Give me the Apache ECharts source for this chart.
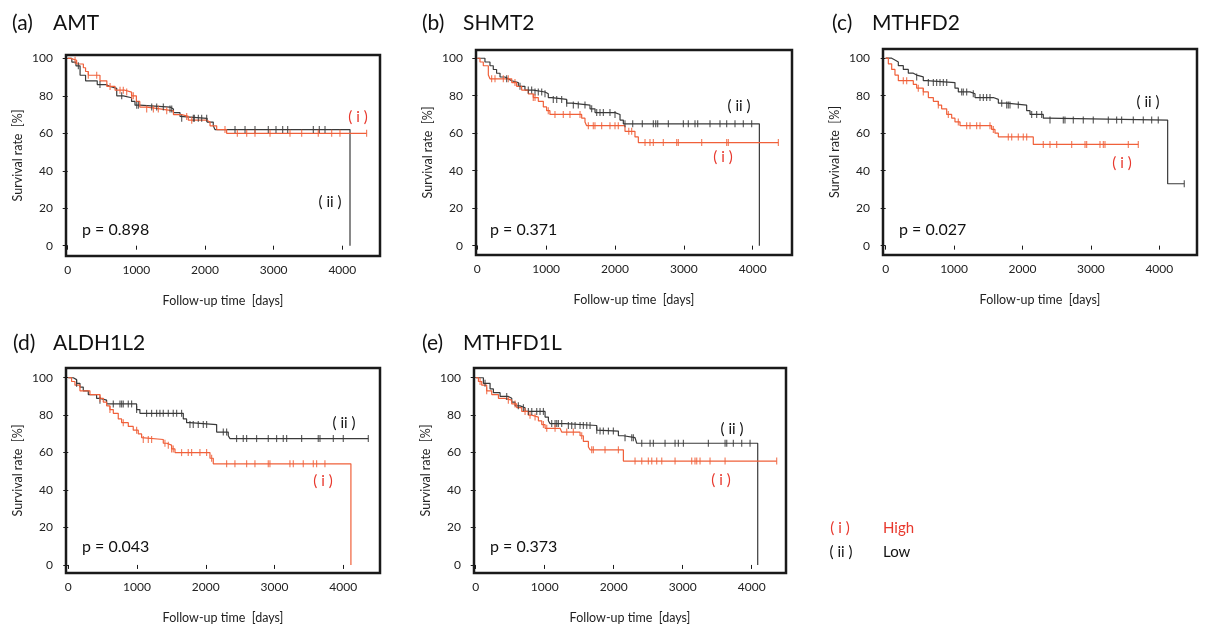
<!DOCTYPE html>
<html>
<head>
<meta charset="utf-8">
<script src="https://cdn.jsdelivr.net/npm/echarts@6/dist/echarts.min.js"></script>
<style>
  html, body { margin: 0; padding: 0; background: #fff; }
  #main { width: 1208px; height: 627px; }
</style>
</head>
<body>
<div id="main"></div>
<script>
// tick labels
var xTicks = [0, 1000, 2000, 3000, 4000];
var yTicks = [0, 20, 40, 60, 80, 100];

// Kaplan-Meier steps: [day, survival %]  (i) = High, (ii) = Low
var amtHigh = [[0,100],[40,99],[130,97],[228,95],[260,93],[300,91],[470,88],[570,85],[690,83],[835,82],[930,80],[1000,77],[1050,74],[1150,73],[1345,72],[1540,70],[1660,69],[1757,67],[2024,66],[2073,64],[2170,62],[2315,60],[4354,60]];
var amtLow = [[0,100],[60,98],[120,96],[180,91],[260,88],[430,86],[560,85],[615,84],[714,80],[810,79],[930,77],[980,75],[1050,74],[1490,73],[1540,71],[1636,69],[1660,68],[2030,66],[2120,64],[2145,62],[4112,0]];
var amtHighCens = [107,300,422,617,762,810,859,932,956,1150,1248,1320,1442,1733,1806,2291,2471,2607,2728,2947,3238,3408,3650,3845,3966,4354];
var amtLowCens = [155,470,786,1005,1030,1223,1296,1393,1490,1515,1660,1830,1845,1903,1951,2024,2437,2583,2728,2922,3034,3131,3204,3578,3665,3748];

var shmt2High = [[0,100],[39,98],[87,96],[160,91],[184,89],[500,87],[571,85],[644,83],[740,81],[813,79],[886,77],[959,74],[1007,72],[1055,70],[1516,68],[1564,66],[1588,64],[2145,61],[2290,58],[2339,55],[4373,55]];
var shmt2Low = [[0,100],[111,98],[184,96],[232,94],[280,92],[330,90],[402,89],[450,88],[500,87],[596,85],[692,83],[813,82],[983,81],[1031,79],[1080,78],[1298,76],[1370,75],[1637,73],[1710,71],[2000,70],[2073,67],[2121,65],[4097,0]];
var shmt2HighCens = [208,257,378,450,547,813,838,1031,1128,1249,1346,1492,1613,1685,1709,1806,1927,2000,2048,2200,2242,2436,2508,2557,2702,2896,2920,3259,3622,3646,4373];
var shmt2LowCens = [426,620,741,789,838,886,935,983,1104,1153,1225,1298,1395,1467,1564,1661,1734,1782,1831,1927,2000,2145,2257,2397,2557,2591,2620,2775,2993,3065,3162,3201,3380,3525,3622,3743,3864,3985];

var mthfd2High = [[0,100],[39,97],[88,94],[136,91],[185,88],[404,86],[453,84],[550,82],[624,79],[697,77],[770,75],[818,73],[892,70],[965,68],[1013,66],[1087,64],[1549,62],[1598,60],[1647,58],[2158,54],[3693,54]];
var mthfd2Low = [[0,100],[88,99],[136,98],[185,96],[258,94],[331,92],[404,91],[453,90],[550,88],[600,87],[1013,84],[1062,82],[1233,81],[1306,79],[1574,78],[1647,76],[1769,75],[2061,72],[2110,70],[2304,68],[2353,67],[4122,33],[4365,33]];
var mthfd2HighCens = [258,307,477,550,770,916,1062,1184,1233,1330,1379,1525,1574,1793,1842,1939,2012,2061,2304,2402,2500,2719,2914,2938,3133,3182,3206,3547,3693];
var mthfd2LowCens = [453,624,697,745,794,843,892,1111,1135,1184,1281,1379,1428,1476,1525,1696,1769,1793,1817,1939,2134,2207,2280,2402,2597,2621,2743,2889,3035,3255,3376,3449,3620,3766,3888,3985,4365];

var aldhHigh = [[0,100],[48,98],[97,96],[170,93],[315,91],[461,89],[509,87],[558,85],[606,83],[655,81],[727,78],[776,76],[873,74],[945,72],[1018,70],[1067,68],[1091,67],[1382,65],[1430,64],[1503,62],[1552,60],[2061,57],[2109,54],[4111,0]];
var aldhLow = [[0,100],[73,99],[121,97],[170,95],[218,93],[291,91],[412,89],[461,88],[558,86],[994,83],[1042,81],[1673,78],[1721,76],[1770,75],[2158,71],[2327,69],[2352,67.5],[4364,67.5]];
var aldhHighCens = [461,606,800,994,1091,1164,1212,1406,1455,1503,1527,1648,1745,1794,1915,2012,2085,2303,2424,2594,2715,2909,2933,3224,3273,3418,3564,3612,3733];
var aldhLowCens = [121,461,655,752,776,800,873,921,994,1139,1212,1285,1333,1382,1455,1527,1576,1648,1770,1818,1891,1964,2012,2255,2303,2448,2545,2594,2739,2909,3030,3127,3176,3394,3636,3661,3855,4000,4364];

var mthfd1lHigh = [[0,100],[39,98],[87,96],[159,93],[232,91],[329,89],[425,88],[522,86],[594,84],[667,82],[763,80],[812,79],[908,77],[957,75],[1005,73],[1222,72],[1246,71],[1512,69],[1560,66],[1633,63],[1657,61.5],[2140,55.5],[4362,55.5]];
var mthfd1lLow = [[0,100],[111,97],[208,94],[256,92],[353,90],[473,89],[522,87],[570,85],[643,84],[715,82],[1005,79],[1053,77],[1077,75.5],[1295,74.5],[1754,72],[1778,71.5],[2068,69],[2140,68],[2309,67],[2333,65],[4087,0]];
var mthfd1lHighCens = [63,159,473,570,715,787,860,981,1029,1150,1319,1415,1536,1681,1705,1874,2068,2309,2406,2502,2551,2623,2696,2889,3130,3178,3203,3251,3396,3614,4362];
var mthfd1lLowCens = [135,449,618,691,763,812,884,932,981,1101,1150,1174,1198,1246,1343,1391,1440,1512,1560,1609,1657,1754,1802,1850,1923,1995,2164,2261,2285,2406,2527,2575,2744,2889,2937,3010,3372,3614,3638,3734,3855,3976];

var RED = '#f0603a', RED_TXT = '#e8382d', BLACK = '#3a3a3a', INK = '#1a1a1a';
var FONT = 'Lato, "Open Sans", sans-serif';

var panels = [
  { tag: '(a)', gene: 'AMT', p: 'p = 0.898', high: amtHigh, low: amtLow, highCens: amtHighCens, lowCens: amtLowCens,
    box: [66, 55, 380, 256], xr: [-25, 4549], yr: [-5.5, 101.8], head: [12, 53, 23], pPos: [82, 230], iPos: [358, 117], iiPos: [330, 202] },
  { tag: '(b)', gene: 'SHMT2', p: 'p = 0.371', high: shmt2High, low: shmt2Low, highCens: shmt2HighCens, lowCens: shmt2LowCens,
    box: [476, 50, 792, 255], xr: [-19, 4571], yr: [-5, 104.4], head: [422, 463, 23], pPos: [490, 230], iPos: [723, 157], iiPos: [739, 106] },
  { tag: '(c)', gene: 'MTHFD2', p: 'p = 0.027', high: mthfd2High, low: mthfd2Low, highCens: mthfd2HighCens, lowCens: mthfd2LowCens,
    box: [883, 49, 1197, 255], xr: [-39, 4551], yr: [-5, 104.9], head: [832, 872, 23], pPos: [899, 230], iPos: [1122, 163], iiPos: [1148, 102] },
  { tag: '(d)', gene: 'ALDH1L2', p: 'p = 0.043', high: aldhHigh, low: aldhLow, highCens: aldhHighCens, lowCens: aldhLowCens,
    box: [66, 368, 380, 573], xr: [-33, 4534], yr: [-4.3, 105.2], head: [13, 53, 343], pPos: [82, 547], iPos: [323, 481], iiPos: [344, 423] },
  { tag: '(e)', gene: 'MTHFD1L', p: 'p = 0.373', high: mthfd1lHigh, low: mthfd1lLow, highCens: mthfd1lHighCens, lowCens: mthfd1lLowCens,
    box: [474, 368, 786, 573], xr: [-25, 4497], yr: [-4.3, 105.2], head: [422, 463, 343], pPos: [490, 547], iPos: [721, 480], iiPos: [732, 429] }
];

// survival value of a step curve at day t
function stepAt(steps, t) {
  var v = steps[0][1];
  for (var k = 0; k < steps.length; k++) {
    if (steps[k][0] <= t) v = steps[k][1];
  }
  return v;
}

function txt(x, y, s, size, color, align) {
  return {
    type: 'text', silent: true,
    style: { x: x, y: y, text: s, fill: color, font: size + 'px ' + FONT,
      align: align, textAlign: align, verticalAlign: 'middle', textVerticalAlign: 'middle' }
  };
}

var grids = [], xAxes = [], yAxes = [], series = [], graphic = [];

panels.forEach(function (pn, i) {
  grids.push({
    left: pn.box[0], top: pn.box[1],
    width: pn.box[2] - pn.box[0], height: pn.box[3] - pn.box[1],
    show: true, borderColor: INK, borderWidth: 2.5, backgroundColor: 'transparent'
  });
  xAxes.push({
    type: 'value', gridIndex: i, min: pn.xr[0], max: pn.xr[1],
    name: 'Follow-up time  [days]', nameLocation: 'middle', nameGap: 38,
    nameTextStyle: { fontFamily: FONT, fontSize: 12.5, color: '#222' },
    axisLine: { show: false },
    axisTick: { show: true, length: 4, customValues: xTicks, lineStyle: { color: INK } },
    axisLabel: { customValues: xTicks, margin: 8, fontFamily: FONT, fontSize: 12, color: '#222',
      formatter: function (v) { return String(v); } },
    splitLine: { show: false }
  });
  yAxes.push({
    type: 'value', gridIndex: i, min: pn.yr[0], max: pn.yr[1],
    name: 'Survival rate  [%]', nameLocation: 'middle', nameGap: 42,
    nameTextStyle: { fontFamily: FONT, fontSize: 12.5, color: '#222' },
    axisLine: { show: false },
    axisTick: { show: true, length: 5, customValues: yTicks, lineStyle: { color: INK } },
    axisLabel: { customValues: yTicks, margin: 13, fontFamily: FONT, fontSize: 12, color: '#222' },
    splitLine: { show: false }
  });

  [[pn.low, pn.lowCens, BLACK], [pn.high, pn.highCens, RED]].forEach(function (c) {
    series.push({
      type: 'line', xAxisIndex: i, yAxisIndex: i, step: 'end', data: c[0],
      showSymbol: false, lineStyle: { color: c[2], width: 1.2 }, itemStyle: { color: c[2] }, z: 3
    });
    series.push({
      type: 'scatter', xAxisIndex: i, yAxisIndex: i, silent: true,
      data: c[1].map(function (t) { return [t, stepAt(c[0], t)]; }),
      symbol: 'rect', symbolSize: [1.2, 7], itemStyle: { color: c[2] }, z: 4
    });
  });

  graphic.push(txt(pn.head[0], pn.head[2], pn.tag, 21, '#111', 'left'));
  graphic.push(txt(pn.head[1], pn.head[2], pn.gene, 21, '#111', 'left'));
  graphic.push(txt(pn.pPos[0], pn.pPos[1], pn.p, 16, '#111', 'left'));
  graphic.push(txt(pn.iPos[0], pn.iPos[1], '( i )', 15, RED_TXT, 'center'));
  graphic.push(txt(pn.iiPos[0], pn.iiPos[1], '( ii )', 15, '#111', 'center'));
});

// legend
graphic.push(txt(840, 528, '( i )', 15, RED_TXT, 'center'));
graphic.push(txt(883, 528, 'High', 15, RED_TXT, 'left'));
graphic.push(txt(841, 552, '( ii )', 15, '#111', 'center'));
graphic.push(txt(883, 552, 'Low', 15, '#111', 'left'));

var chart = echarts.init(document.getElementById('main'));
chart.setOption({
  animation: false,
  backgroundColor: '#fff',
  grid: grids,
  xAxis: xAxes,
  yAxis: yAxes,
  series: series,
  graphic: graphic
});
</script>
</body>
</html>
